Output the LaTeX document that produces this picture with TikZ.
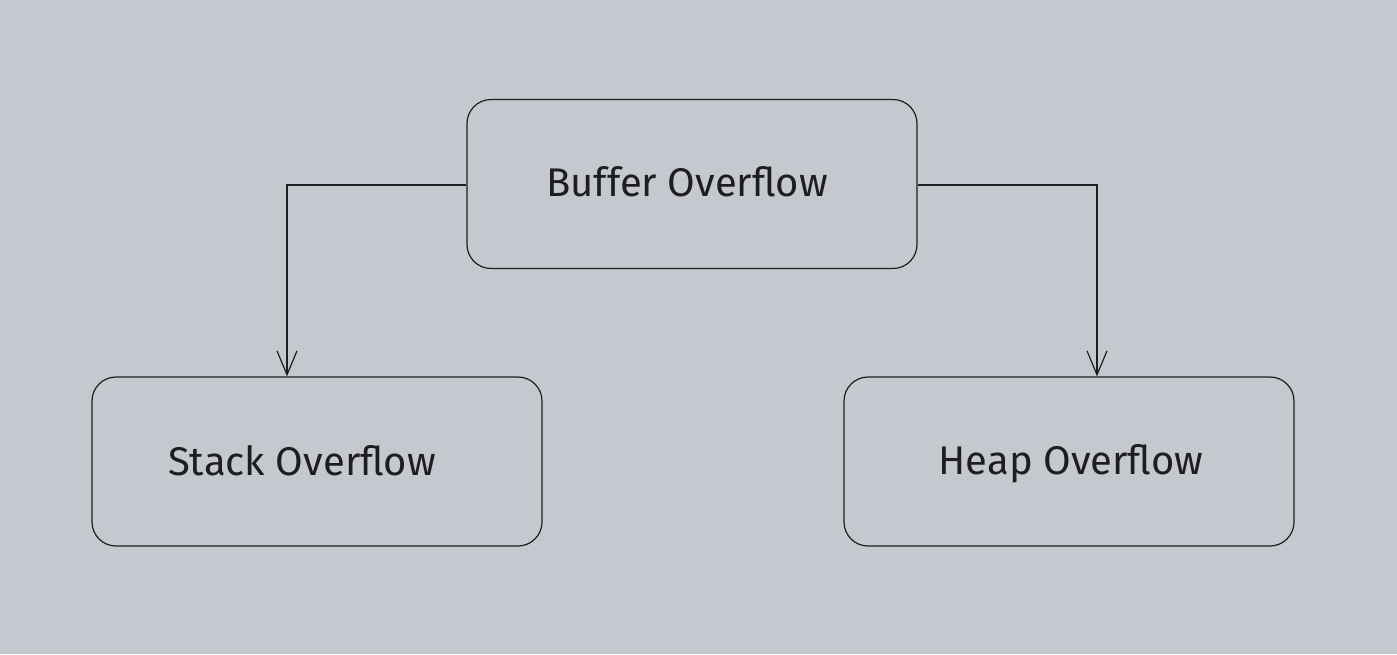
\documentclass[tikz,border=0pt]{standalone}
\usepackage{fontspec}
\setmainfont{Fira Sans}
\usetikzlibrary{arrows.meta}
\definecolor{bg}{HTML}{C5C9CF}
\definecolor{ink}{HTML}{1E1E1E}
\tikzset{
  box/.style={draw=ink, line width=1.2pt, rounded corners=24pt, minimum width=450pt, minimum height=169pt, inner sep=0pt},
  lbl/.style={text=ink, font=\fontsize{40}{46}\selectfont, inner sep=0pt, anchor=base},
  conn/.style={draw=ink, line width=1.2pt, -{Straight Barb[length=24pt, width=20pt, line width=1.2pt]}}
}
\begin{document}
\begin{tikzpicture}[x=1pt,y=-1pt]
\fill[bg] (0,0) rectangle (1397,654);
\useasboundingbox (0,0) rectangle (1397,654);
\node[box] (buf) at (692,184) {};
\node[box] (stk) at (317,461.5) {};
\node[box] (hp) at (1069,461.5) {};
\node[lbl] (tbuf) at (687,196) {Buffer Overflow};
\node[lbl] (tstk) at (302,475) {Stack Overflow};
\node[lbl] (thp) at (1071,474) {Heap Overflow};
\coordinate (lc) at (287,185);
\coordinate (rc) at (1097,185);
\draw[conn] (buf.west |- lc) -- (lc) -- (lc |- stk.north);
\draw[conn] (buf.east |- rc) -- (rc) -- (rc |- hp.north);
\end{tikzpicture}
\end{document}
